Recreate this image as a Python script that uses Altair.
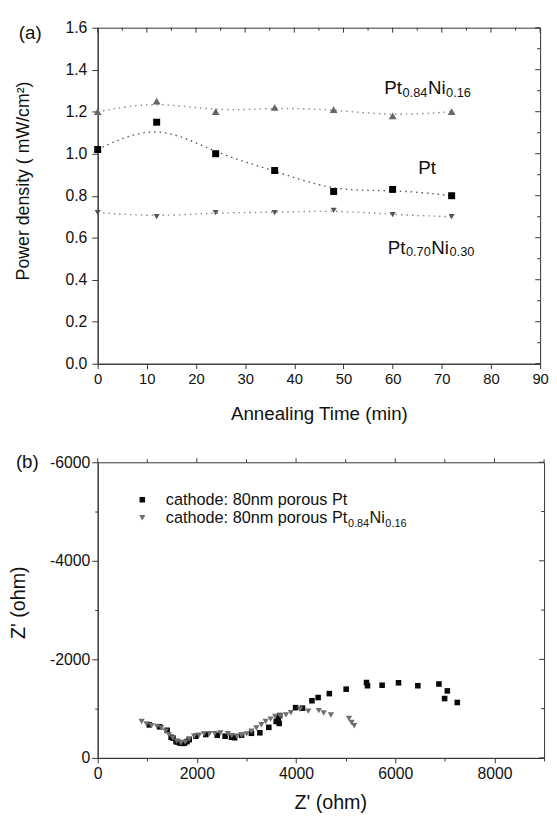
import altair as alt
import pandas as pd

FONT = "Liberation Sans"

# ---------------- panel (a) data ----------------
anneal_time = [0, 12, 24, 36, 48, 60, 72]
power_ptni16 = [1.20, 1.25, 1.20, 1.22, 1.21, 1.18, 1.20]
power_pt = [1.02, 1.15, 1.00, 0.92, 0.82, 0.83, 0.80]
power_ptni30 = [0.72, 0.70, 0.72, 0.72, 0.73, 0.71, 0.70]
series_a = ["Pt0.84Ni0.16", "Pt", "Pt0.70Ni0.30"]

# ---------------- panel (b) data (Z'' in ohm, plotted on reversed axis) ----------------
pt_zre = [1040, 1250, 1400, 1480, 1520, 1580, 1620, 1660, 1710, 1750, 1800, 1845, 1980, 2180,
          2410, 2570, 2700, 2760, 2900, 3100, 3270, 3450, 3600, 3640, 3660, 3670, 3990, 4130,
          4320, 4445, 4670, 5010, 5420, 5440, 5735, 6065, 6455, 6880, 7050, 6995, 7250]
pt_zim = [-670, -630, -560, -420, -400, -330, -320, -300, -295, -300, -330, -370, -440, -475,
          -460, -440, -420, -410, -460, -500, -510, -620, -740, -800, -700, -860, -1020, -1010,
          -1160, -1225, -1305, -1395, -1530, -1465, -1475, -1525, -1465, -1500, -1360, -1205, -1125]
ni_zre = [887, 986, 1085, 1196, 1283, 1369, 1435, 1514, 1594, 1680, 1766, 1845, 1944, 2044,
          2143, 2256, 2361, 2474, 2625, 2704, 2804, 2903, 3003, 3101, 3200, 3300, 3387, 3486,
          3578, 3684, 3796, 3895, 4081, 4246, 4458, 4557, 4702, 5066, 5119, 5172]
ni_zim = [-740, -687, -653, -640, -607, -540, -473, -407, -340, -307, -320, -387, -440, -460,
          -487, -493, -493, -507, -493, -453, -440, -453, -487, -540, -607, -673, -740, -787,
          -840, -853, -873, -920, -987, -950, -960, -910, -870, -800, -720, -653]
series_b = ["cathode Pt", "cathode PtNi"]

# ---------------- ticks ----------------
a_x_ticks = list(range(0, 91, 5))
a_y_ticks = [round(i * 0.1, 1) for i in range(17)]
b_x_ticks = list(range(0, 9001, 1000))
b_y_ticks = list(range(-6000, 1, 1000))

# ---------------- annotation texts ----------------
ann_a = [  # (x, y, parts)
    (58.3, 1.313, [("Pt", False), ("0.84", True), ("Ni", False), ("0.16", True)]),
    (65.2, 0.932, [("Pt", False)]),
    (59.0, 0.553, [("Pt", False), ("0.70", True), ("Ni", False), ("0.30", True)]),
]
legend_b_x_marker = 900
legend_b_x_text = 1373
legend_b = [
    (-5240, [("cathode: 80nm porous Pt", False)]),
    (-4875, [("cathode: 80nm porous Pt", False), ("0.84", True), ("Ni", False), ("0.16", True)]),
]

W_A, H_A = 449, 341
W_B, H_B = 453, 300
TICK = "#333333"

ARIAL = {"P": .667, "t": .278, "N": .722, "i": .222, ".": .278, ":": .278, " ": .278,
         "c": .5, "a": .556, "h": .556, "o": .556, "d": .556, "e": .556, "n": .556,
         "m": .833, "p": .556, "r": .333, "u": .556, "s": .5}


def text_width(s, size):
    return sum(ARIAL.get(ch, .556) for ch in s) * size


def cond(test, major, minor):
    return {"condition": {"test": test, "value": major}, "value": minor}


def sub_text(x, y, parts, big, small, drop):
    layers = []
    off = 0.0
    for s, is_sub in parts:
        size = small if is_sub else big
        df = pd.DataFrame({"x": [x], "y": [y], "s": [s]})
        layers.append(
            alt.Chart(df).mark_text(align="left", baseline="middle", font=FONT, fontSize=size,
                                    dx=off, dy=drop if is_sub else 0, color="#111")
            .encode(x=alt.X("x:Q"), y=alt.Y("y:Q"), text="s:N"))
        off += text_width(s, size) + 0.5
    return layers


def top_ticks(vals, length, outward):
    df = pd.DataFrame({"x": vals})
    return alt.Chart(df).mark_rule(color=TICK, strokeWidth=1).encode(
        x="x:Q", y=alt.value(0), y2=alt.value(-length if outward else length))


def right_ticks(vals, width, length):
    df = pd.DataFrame({"y": vals})
    return alt.Chart(df).mark_rule(color=TICK, strokeWidth=1).encode(
        y="y:Q", x=alt.value(width), x2=alt.value(width - length))


# ================= panel (a) =================
rows = []
for name, vals in zip(series_a, [power_ptni16, power_pt, power_ptni30]):
    for t, v in zip(anneal_time, vals):
        rows.append({"x": t, "y": v, "series": name})
df_a = pd.DataFrame(rows)

xA = alt.X("x:Q", scale=alt.Scale(domain=[0, 90], nice=False, zero=False),
           axis=alt.Axis(values=a_x_ticks, title="Annealing Time (min)", format="d",
                         labelExpr="datum.value % 10 === 0 ? datum.label : ''",
                         tickSize=cond("datum.value % 10 === 0", 5, 3),
                         labelPadding=3, labelFontSize=15, titleFontSize=19,
                         titleY=51, titleBaseline="middle",
                         labelOverlap=False, labelFlush=False, grid=False))
yA = alt.Y("y:Q", scale=alt.Scale(domain=[0, 1.6], nice=False, zero=False),
           axis=alt.Axis(values=a_y_ticks, title="Power density ( mW/cm²)",
                         labelExpr="round(datum.value*10) % 2 === 0 ? format(datum.value, '.1f') : ''",
                         tickSize=cond("round(datum.value*10) % 2 === 0", 6, 3),
                         labelPadding=5, labelFontSize=16, titleFontSize=18,
                         titleX=-75, titleY=155, titleBaseline="middle",
                         labelOverlap=False, labelFlush=False, grid=False))

fill_a = alt.Fill("series:N", scale=alt.Scale(domain=series_a, range=["#666666", "#000000", "#555555"]), legend=None)
stroke_a = alt.Stroke("series:N", scale=alt.Scale(domain=series_a, range=["#8a8a8a", "#555555", "#8a8a8a"]), legend=None)

lines_a = alt.Chart(df_a).mark_line(interpolate="basis", strokeDash=[1.5, 4], strokeWidth=1.4).encode(
    x=xA, y=yA, detail="series:N", stroke=stroke_a)
points_a = alt.Chart(df_a).mark_point(filled=True, opacity=1, strokeWidth=0).encode(
    x=xA, y=yA,
    shape=alt.Shape("series:N", scale=alt.Scale(domain=series_a, range=["triangle-up", "square", "triangle-down"]), legend=None),
    size=alt.Size("series:N", scale=alt.Scale(domain=series_a, range=[62, 38, 62]), legend=None),
    fill=fill_a)

layers_a = [lines_a, points_a,
            top_ticks([v for v in a_x_ticks if v % 10 == 0], 5, False),
            top_ticks([v for v in a_x_ticks if v % 10 != 0], 3, False),
            right_ticks([v for v in a_y_ticks if round(v * 10) % 2 == 0], W_A, 5),
            right_ticks([v for v in a_y_ticks if round(v * 10) % 2 != 0], W_A, 3)]
for x, y, parts in ann_a:
    layers_a += sub_text(x, y, parts, 19, 13, 5)
layers_a.append(alt.Chart(pd.DataFrame({"s": ["(a)"]})).mark_text(
    align="left", baseline="middle", font=FONT, fontSize=19, color="#111").encode(
    text="s:N", x=alt.value(-80), y=alt.value(5)))

panel_a = alt.layer(*layers_a).properties(width=W_A, height=H_A)

# ================= panel (b) =================
df_b = pd.concat([
    pd.DataFrame({"x": pt_zre, "y": pt_zim, "series": series_b[0]}),
    pd.DataFrame({"x": ni_zre, "y": ni_zim, "series": series_b[1]}),
])

xB = alt.X("x:Q", scale=alt.Scale(domain=[0, 9000], nice=False, zero=False),
           axis=alt.Axis(values=b_x_ticks, title="Z' (ohm)", format="d",
                         labelExpr="datum.value % 2000 === 0 ? '' + datum.value : ''",
                         tickSize=cond("datum.value % 2000 === 0", 5, 3),
                         labelPadding=3, labelFontSize=16, titleFontSize=20,
                         titleX=236, titleY=45, titleBaseline="middle",
                         labelOverlap=False, labelFlush=False, grid=False))
yB = alt.Y("y:Q", scale=alt.Scale(domain=[-6000, 0], nice=False, zero=False, reverse=True),
           axis=alt.Axis(values=b_y_ticks, title="Z' (ohm)", format="d",
                         labelExpr="datum.value % 2000 === 0 ? '' + datum.value : ''",
                         tickSize=cond("datum.value % 2000 === 0", 6, 3),
                         labelPadding=2, labelFontSize=16, titleFontSize=20,
                         titleX=-80, titleY=142, titleBaseline="middle",
                         labelOverlap=False, labelFlush=False, grid=False))

shape_b = alt.Shape("series:N", scale=alt.Scale(domain=series_b, range=["square", "triangle-down"]), legend=None)
fill_b = alt.Fill("series:N", scale=alt.Scale(domain=series_b, range=["#0a0a0a", "#6e6e6e"]), legend=None)
size_b = alt.Size("series:N", scale=alt.Scale(domain=series_b, range=[32, 40]), legend=None)

points_b = alt.Chart(df_b).mark_point(filled=True, opacity=1, strokeWidth=0).encode(
    x=xB, y=yB, shape=shape_b, fill=fill_b, size=size_b, order=alt.Order("series:N"))

layers_b = [points_b,
            top_ticks([v for v in b_x_ticks if v % 2000 == 0], 4, True),
            top_ticks([v for v in b_x_ticks if v % 2000 != 0], 3, True),
            right_ticks([v for v in b_y_ticks if v % 2000 == 0], W_B, 5),
            right_ticks([v for v in b_y_ticks if v % 2000 != 0], W_B, 3)]

leg_df = pd.DataFrame({"x": [legend_b_x_marker] * 2, "y": [r[0] for r in legend_b],
                       "series": series_b})
layers_b.append(alt.Chart(leg_df).mark_point(filled=True, opacity=1, strokeWidth=0).encode(
    x="x:Q", y="y:Q", shape=shape_b, fill=fill_b, size=size_b))
for yv, parts in legend_b:
    layers_b += sub_text(legend_b_x_text, yv, parts, 16.5, 11, 6)
layers_b.append(alt.Chart(pd.DataFrame({"s": ["(b)"]})).mark_text(
    align="left", baseline="middle", font=FONT, fontSize=19, color="#111").encode(
    text="s:N", x=alt.value(-83), y=alt.value(0)))

panel_b = alt.layer(*layers_b).properties(width=W_B, height=H_B)

chart = alt.vconcat(panel_a, panel_b, spacing=100, bounds="flush").resolve_scale(
    color="independent", shape="independent", size="independent",
    fill="independent", stroke="independent"
).properties(
    padding={"left": 0, "top": 5, "right": 0, "bottom": 0}
).configure_view(stroke="#333333", strokeWidth=1).configure_axis(
    domainColor="#333333", tickColor=TICK, labelColor="#111111", titleColor="#111111",
    labelFont=FONT, titleFont=FONT, titleFontWeight="normal", grid=False
).configure_text(font=FONT)

chart.save("out.html", embed_options={"renderer": "svg", "actions": False})
